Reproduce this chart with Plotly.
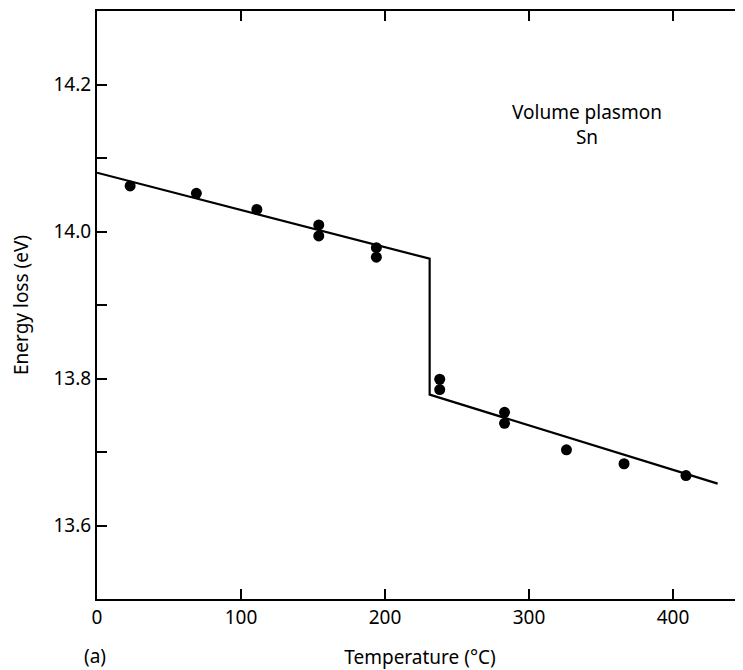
import plotly.graph_objects as go

# Data
temp_c = [23, 69, 111, 154, 154, 194, 194, 238, 238, 283, 283, 326, 366, 409]
energy_ev = [14.062, 14.052, 14.030, 14.009, 13.994, 13.978, 13.965,
             13.799, 13.785, 13.754, 13.739, 13.703, 13.684, 13.668]
fit_temp = [0, 231, 231, 431]
fit_energy = [14.080, 13.963, 13.778, 13.657]

x_tick_vals = [0, 100, 200, 300, 400]
x_tick_text = ["0", "100", "200", "300", "400"]
top_tick_vals = [100, 200, 300, 400]
y_tick_vals = [13.6, 13.7, 13.8, 13.9, 14.0, 14.1, 14.2]
y_tick_text = ["13.6", "", "13.8", "", "14.0", "", "14.2"]

FONT = "Noto Sans"

fig = go.Figure()
fig.add_trace(go.Scatter(x=fit_temp, y=fit_energy, mode="lines",
                         line=dict(color="black", width=2.2),
                         hoverinfo="skip", showlegend=False))
fig.add_trace(go.Scatter(x=temp_c, y=energy_ev, mode="markers",
                         marker=dict(color="black", size=11),
                         showlegend=False))
# invisible trace to anchor the mirrored (top / right) tick axes
fig.add_trace(go.Scatter(x=temp_c, y=energy_ev, mode="markers", xaxis="x2", yaxis="y2",
                         marker=dict(opacity=0), hoverinfo="skip", showlegend=False))

fig.update_layout(
    width=735, height=662,
    margin=dict(l=89, r=0, t=3, b=71, pad=0),
    paper_bgcolor="white", plot_bgcolor="white",
    font=dict(family=FONT, color="black", size=19),
    xaxis=dict(range=[0, 448.6], tickvals=x_tick_vals, ticktext=x_tick_text,
               ticks="inside", ticklen=10, tickwidth=1.5, tickcolor="black",
               showline=True, linecolor="black", linewidth=2, showgrid=False,
               zeroline=False, tickfont=dict(size=19),
               title=dict(text="Temperature (°C)", font=dict(size=19), standoff=24)),
    xaxis2=dict(overlaying="x", side="top", matches="x", tickvals=top_tick_vals,
                ticks="inside", ticklen=10, tickwidth=1.5, tickcolor="black",
                showticklabels=False, showline=True, linecolor="black", linewidth=2,
                showgrid=False, zeroline=False),
    yaxis=dict(range=[13.5, 14.3], tickvals=y_tick_vals, ticktext=y_tick_text,
               ticks="inside", ticklen=10, tickwidth=1.5, tickcolor="black",
               showline=True, linecolor="black", linewidth=2, showgrid=False,
               zeroline=False, tickfont=dict(size=19),
               title=dict(text="Energy loss (eV)", font=dict(size=19), standoff=22)),
    yaxis2=dict(overlaying="y", side="right", matches="y", tickvals=y_tick_vals,
                ticks="inside", ticklen=7, tickwidth=1.5, tickcolor="black",
                showticklabels=False, showline=False, showgrid=False, zeroline=False),
    annotations=[
        dict(text="Volume plasmon<br>Sn", xref="x", yref="y", x=340, y=14.145,
             showarrow=False, font=dict(size=19), align="center"),
        dict(text="(a)", xref="paper", yref="paper", x=-0.003, y=-0.097,
             xanchor="center", yanchor="middle", showarrow=False, font=dict(size=19)),
    ],
)

fig.write_html("out.html")
